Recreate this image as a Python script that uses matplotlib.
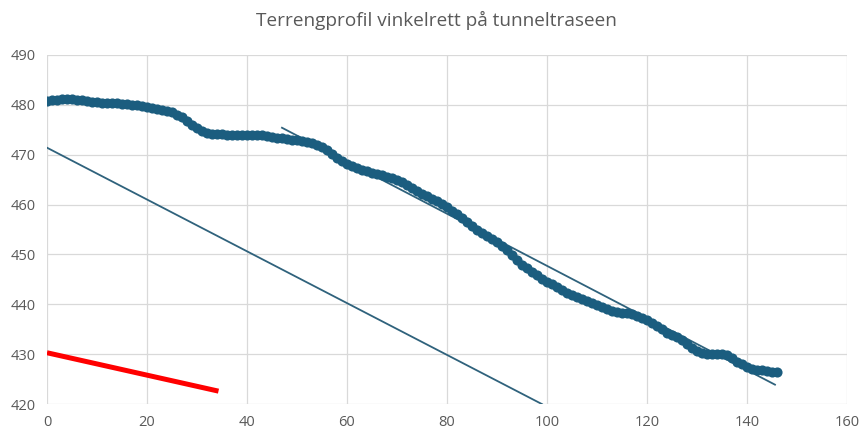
import numpy as np
import matplotlib.pyplot as plt

# terrain profile, distance (m) vs elevation (m)
dist = np.arange(0, 147)
elev = [480.8, 480.9, 481.0, 481.1, 481.2, 481.2, 481.0, 480.9, 480.7, 480.6,
        480.5, 480.4, 480.4, 480.3, 480.3, 480.2, 480.1, 480.0, 479.9, 479.8,
        479.6, 479.4, 479.2, 479.0, 478.8, 478.5, 478.0, 477.5, 476.8, 476.0,
        475.3, 474.7, 474.3, 474.2, 474.2, 474.1, 474.0, 474.0, 474.0, 474.0,
        474.0, 474.0, 474.0, 473.9, 473.7, 473.5, 473.4, 473.3, 473.2, 473.0,
        472.9, 472.7, 472.5, 472.3, 472.0, 471.6, 471.0, 470.2, 469.4, 468.7,
        468.2, 467.7, 467.3, 467.0, 466.7, 466.4, 466.1, 465.9, 465.6, 465.3,
        465.0, 464.5, 464.0, 463.4, 462.8, 462.2, 461.7, 461.2, 460.7, 460.2,
        459.6, 458.8, 458.1, 457.3, 456.5, 455.7, 455.0, 454.3, 453.6, 453.0,
        452.4, 451.7, 450.8, 449.8, 448.8, 447.9, 447.2, 446.5, 445.8, 445.1,
        444.5, 444.0, 443.4, 442.9, 442.3, 441.8, 441.4, 441.0, 440.6, 440.2,
        439.8, 439.4, 439.0, 438.6, 438.4, 438.3, 438.2, 438.1, 437.7, 437.3,
        436.9, 436.3, 435.6, 435.0, 434.3, 433.8, 433.4, 432.8, 432.0, 431.2,
        430.6, 430.2, 430.1, 430.0, 430.0, 430.0, 429.8, 429.2, 428.5, 428.0,
        427.5, 427.1, 426.9, 426.8, 426.6, 426.5, 426.4]

# straight reference lines (start/end points)
line1_x = [0, 99]
line1_y = [471.4, 420.0]
line2_x = [47, 145.6]
line2_y = [475.4, 423.9]
red_x = [0, 34.3]
red_y = [430.3, 422.6]

plt.rcParams['font.family'] = ['Open Sans', 'DejaVu Sans']

fig = plt.figure(figsize=(8.59, 4.29), dpi=100)
ax = fig.add_axes([0.0547, 0.058, 0.9313, 0.814])

ax.plot(line1_x, line1_y, color='#2f627c', lw=1.3, zorder=2)
ax.plot(line2_x, line2_y, color='#2f627c', lw=1.3, zorder=2)
ax.plot(dist, elev, 'o', color='#1b5d7f', ms=7.3, mec='none', zorder=3)
ax.plot(red_x, red_y, color='#ff0000', lw=3.6, solid_capstyle='butt', zorder=4)

ax.set_xlim(0, 160)
ax.set_ylim(420, 490)
ax.set_xticks(np.arange(0, 161, 20))
ax.set_yticks(np.arange(420, 491, 10))
ax.grid(True, color='#d9d9d9', lw=0.9)
ax.set_axisbelow(True)
for s in ax.spines.values():
    s.set_visible(False)
ax.tick_params(length=0, labelsize=10.5, labelcolor='#595959', pad=8)

fig.suptitle('Terrengprofil vinkelrett på tunneltraseen', x=0.508, y=0.975,
             fontsize=13.7, color='#595959')

fig.savefig('out.png', dpi=100)
